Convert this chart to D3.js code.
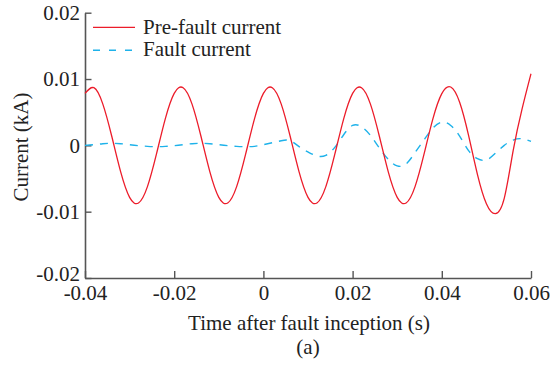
<!DOCTYPE html>
<html>
<head>
<meta charset="utf-8">
<script src="https://cdn.jsdelivr.net/npm/d3@7/dist/d3.min.js"></script>
<style>
  html, body { margin: 0; padding: 0; background: #fff; }
  svg { display: block; }
  text { font-family: "Liberation Serif", "Times New Roman", serif; fill: #222; }
</style>
</head>
<body>
<svg id="chart" width="559" height="365"></svg>
<script>
// ---- data ----
const timeStart = -0.04;
const timeStep = 0.002;
const preFault = [
  0.00784, 0.00869, 0.00622, 0.00137, -0.00400, -0.00784, -0.00869, -0.00622, -0.00137, 0.00400,
  0.00784, 0.00869, 0.00622, 0.00137, -0.00400, -0.00784, -0.00869, -0.00622, -0.00137, 0.00400,
  0.00784, 0.00869, 0.00622, 0.00137, -0.00400, -0.00784, -0.00869, -0.00622, -0.00137, 0.00400,
  0.00784, 0.00869, 0.00622, 0.00137, -0.00400, -0.00784, -0.00869, -0.00622, -0.00137, 0.00400,
  0.00780, 0.00880, 0.00650, 0.00150, -0.00440, -0.00880, -0.01030, -0.00800, -0.00080, 0.00550,
  0.01080
];
const faultCurrent = [
  0.00000, 0.00010, 0.00025, 0.00030, 0.00025, 0.00010, -0.00005, -0.00015, -0.00020, -0.00015,
  -0.00005, 0.00010, 0.00025, 0.00030, 0.00025, 0.00010, -0.00005, -0.00015, -0.00020, -0.00015,
  0.00010, 0.00040, 0.00070, 0.00070, -0.00020, -0.00100, -0.00160, -0.00150, -0.00030, 0.00160,
  0.00300, 0.00280, 0.00150, -0.00040, -0.00210, -0.00310, -0.00280, -0.00110, 0.00080, 0.00260,
  0.00350, 0.00300, 0.00140, -0.00080, -0.00200, -0.00220, -0.00120, 0.00000, 0.00080, 0.00100,
  0.00060
];
const xTicks = [-0.04, -0.02, 0, 0.02, 0.04, 0.06];
const xTickLabels = ["-0.04", "-0.02", "0", "0.02", "0.04", "0.06"];
const yTicks = [-0.02, -0.01, 0, 0.01, 0.02];
const yTickLabels = ["-0.02", "-0.01", "0", "0.01", "0.02"];
const seriesNames = ["Pre-fault current", "Fault current"];
const xTitle = "Time after fault inception (s)";
const yTitle = "Current (kA)";
const caption = "(a)";

// ---- layout ----
const svg = d3.select("#chart");
const plotLeft = 85, plotRight = 531, plotTop = 12.7, plotBottom = 278;
const x = d3.scaleLinear().domain([-0.04, 0.06]).range([plotLeft, plotRight]);
const y = d3.scaleLinear().domain([-0.02, 0.02]).range([plotBottom, plotTop]);

const axisColor = "#555";
const fontSize = 21;
const serif = "'Liberation Serif', 'Times New Roman', serif";

// axes
const gx = svg.append("g").attr("transform", `translate(0,${plotBottom})`)
  .call(d3.axisBottom(x).tickValues(xTicks)
    .tickFormat((d, i) => xTickLabels[i])
    .tickSizeInner(-7).tickSizeOuter(0).tickPadding(7));
const gy = svg.append("g").attr("transform", `translate(${plotLeft},0)`)
  .call(d3.axisLeft(y).tickValues(yTicks)
    .tickFormat((d, i) => yTickLabels[i])
    .tickSizeInner(-6.5).tickSizeOuter(0).tickPadding(5));

[gx, gy].forEach(g => {
  g.attr("font-family", serif).attr("font-size", fontSize);
  g.select(".domain").attr("stroke", axisColor).attr("stroke-width", 1.6);
  g.selectAll(".tick line").attr("stroke", axisColor).attr("stroke-width", 1.4);
  g.selectAll(".tick text").attr("fill", "#222");
});
gy.selectAll(".tick text").attr("dy", (d, i) => i === 0 ? "0.12em" : "0.32em");

// lines
const pts = arr => arr.map((v, i) => [timeStart + i * timeStep, v]);
const line = d3.line().x(d => x(d[0])).y(d => y(d[1])).curve(d3.curveNatural);

svg.append("path").datum(pts(faultCurrent))
  .attr("d", line).attr("fill", "none")
  .attr("stroke", "#1eb2ea").attr("stroke-width", 1.4)
  .attr("stroke-dasharray", "8,7");

svg.append("path").datum(pts(preFault))
  .attr("d", line).attr("fill", "none")
  .attr("stroke", "#ec1c2a").attr("stroke-width", 1.3);

// legend
const legend = svg.append("g").attr("font-family", serif).attr("font-size", fontSize);
legend.append("line").attr("x1", 93).attr("x2", 135).attr("y1", 27.3).attr("y2", 27.3)
  .attr("stroke", "#ec1c2a").attr("stroke-width", 1.3);
legend.append("text").attr("x", 143).attr("y", 33.5).text(seriesNames[0]);
legend.append("line").attr("x1", 93).attr("x2", 135).attr("y1", 50.3).attr("y2", 50.3)
  .attr("stroke", "#1eb2ea").attr("stroke-width", 1.4).attr("stroke-dasharray", "7,9");
legend.append("text").attr("x", 143).attr("y", 56).text(seriesNames[1]);

// titles
svg.append("text").attr("x", 309).attr("y", 330).attr("text-anchor", "middle")
  .attr("font-size", fontSize).text(xTitle);
svg.append("text").attr("x", 308).attr("y", 354).attr("text-anchor", "middle")
  .attr("font-size", fontSize).text(caption);
svg.append("text").attr("transform", "translate(28,147) rotate(-90)")
  .attr("text-anchor", "middle").attr("font-size", fontSize).text(yTitle);
</script>
</body>
</html>
